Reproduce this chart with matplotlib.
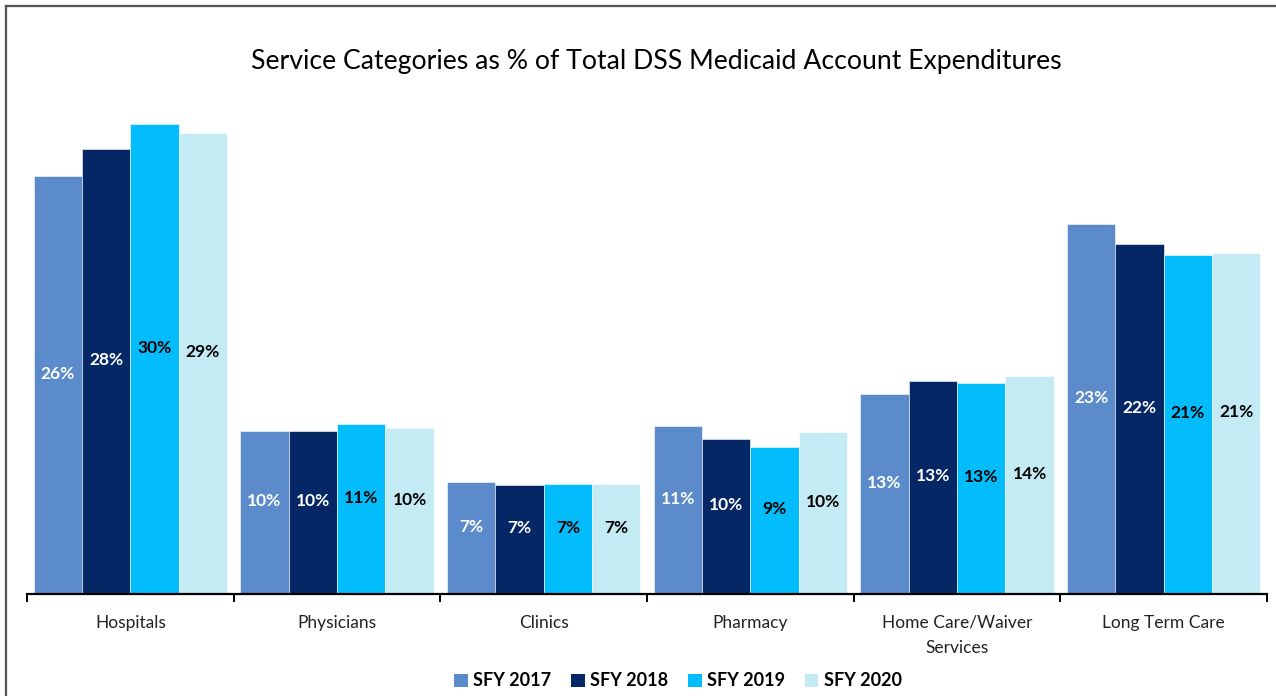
import matplotlib
matplotlib.use("Agg")
import matplotlib.pyplot as plt
from matplotlib.lines import Line2D
from matplotlib.patches import Patch
import numpy as np

# podaci
kategorije = ["Hospitals", "Physicians", "Clinics", "Pharmacy",
              "Home Care/Waiver\nServices", "Long Term Care"]
serije = ["SFY 2017", "SFY 2018", "SFY 2019", "SFY 2020"]
sfy2017 = [26.1, 10.2, 7.0, 10.5, 12.5, 23.1]
sfy2018 = [27.8, 10.2, 6.8, 9.7, 13.3, 21.9]
sfy2019 = [29.4, 10.6, 6.9, 9.2, 13.2, 21.2]
sfy2020 = [28.8, 10.4, 6.9, 10.1, 13.6, 21.3]
oznake2017 = ["26%", "10%", "7%", "11%", "13%", "23%"]
oznake2018 = ["28%", "10%", "7%", "10%", "13%", "22%"]
oznake2019 = ["30%", "11%", "7%", "9%", "13%", "21%"]
oznake2020 = ["29%", "10%", "7%", "10%", "14%", "21%"]

vrijednosti = [sfy2017, sfy2018, sfy2019, sfy2020]
oznake = [oznake2017, oznake2018, oznake2019, oznake2020]
boje = ["#5B8BCB", "#062765", "#02BCFB", "#C4EAF4"]
boje_teksta = ["white", "white", "black", "black"]

plt.rcParams["font.family"] = ["Lato", "DejaVu Sans"]

fig = plt.figure(figsize=(12.76, 6.96), dpi=100)
ax = fig.add_axes([27 / 1276, 1 - 594 / 696, 1240 / 1276, 512 / 696])

x = np.arange(len(kategorije))
sirina = 0.234
for i in range(len(serije)):
    pomak = (i - 1.5) * sirina
    stupci = ax.bar(x + pomak, vrijednosti[i], width=sirina, color=boje[i],
                    edgecolor="white", linewidth=0.4, label=serije[i])
    for s, tekst in zip(stupci, oznake[i]):
        ax.text(s.get_x() + s.get_width() / 2, s.get_height() / 2 + 0.7, tekst,
                ha="center", va="center", fontsize=12.5, fontweight="bold",
                color=boje_teksta[i])

ax.set_xlim(-0.5, len(kategorije) - 0.5)
ax.set_ylim(0, 32)
ax.set_yticks([])
for strana in ["top", "right", "left"]:
    ax.spines[strana].set_visible(False)
ax.spines["bottom"].set_linewidth(1.6)
ax.spines["bottom"].set_color("black")

# crtice izmedu grupa
ax.set_xticks(np.arange(-0.5, len(kategorije)))
ax.set_xticklabels([])
ax.tick_params(axis="x", direction="out", length=6, width=1.4, color="black")
for i, k in enumerate(kategorije):
    ax.text(i, -1.3, k, ha="center", va="top", fontsize=12.5, color="#222222",
            linespacing=1.7)

fig.text(656 / 1276, 1 - 61 / 696, "Service Categories as % of Total DSS Medicaid Account Expenditures",
         ha="center", va="center", fontsize=19.2, color="black")

rucke = [Patch(facecolor=b, edgecolor="none") for b in boje]
fig.legend(rucke, serije, loc="center", bbox_to_anchor=(678 / 1276, 1 - 681 / 696),
           ncol=4, frameon=False, prop={"weight": "bold", "size": 13},
           handlelength=0.75, handleheight=0.75, handletextpad=0.3, columnspacing=1.1)

# okvir slike
fig.add_artist(Line2D([6 / 1276, 1], [1 - 6 / 696, 1 - 6 / 696], transform=fig.transFigure,
                      color="#555555", linewidth=1.6))
fig.add_artist(Line2D([6 / 1276, 6 / 1276], [0, 1 - 6 / 696], transform=fig.transFigure,
                      color="#555555", linewidth=1.6))

fig.savefig("out.png", dpi=100)
